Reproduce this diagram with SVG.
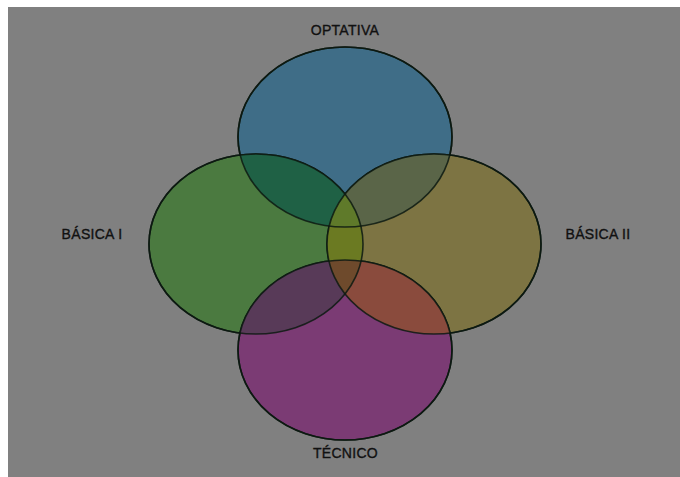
<svg xmlns="http://www.w3.org/2000/svg" width="680" height="477" viewBox="0 0 680 477">
<style>
.set{stroke:#0d1a12;stroke-width:1.6}
.ln{fill:none;stroke:#0d1a12;stroke-width:1.6;stroke-opacity:0.85}
.lbl{font-family:"Liberation Sans",Arial,sans-serif;font-size:14px;letter-spacing:0.3px;fill:#111;stroke:#111;stroke-width:0.35;text-anchor:middle}
</style>
<defs>
<clipPath id="cB"><ellipse cx="345" cy="137" rx="107" ry="90"/></clipPath>
<clipPath id="cG"><ellipse cx="256" cy="244" rx="107" ry="90"/></clipPath>
<clipPath id="cO"><ellipse cx="434" cy="244" rx="107" ry="90"/></clipPath>
<clipPath id="cM"><ellipse cx="345" cy="350" rx="107" ry="90"/></clipPath>
</defs>
<rect x="0" y="0" width="680" height="477" fill="#ffffff"/>
<rect x="8" y="7" width="672" height="470" fill="#808080"/>
<g id="optativa">
<ellipse class="set" cx="345" cy="137" rx="107" ry="90" fill="#3f6d87"/>
<text class="lbl" x="345" y="34.5">OPTATIVA</text>
</g>
<g id="basica1">
<ellipse class="set" cx="256" cy="244" rx="107" ry="90" fill="#4b7a40"/>
<text class="lbl" x="92" y="238.5">BÁSICA I</text>
</g>
<g id="basica2">
<ellipse class="set" cx="434" cy="244" rx="107" ry="90" fill="#7d7443"/>
<text class="lbl" x="598" y="238.5">BÁSICA II</text>
</g>
<g id="tecnico">
<ellipse class="set" cx="345" cy="350" rx="107" ry="90" fill="#7b3b74"/>
<text class="lbl" x="345.5" y="457.5">TÉCNICO</text>
</g>
<g id="overlaps">
<g clip-path="url(#cB)"><ellipse cx="256" cy="244" rx="107" ry="90" fill="#1f6145"/></g>
<g clip-path="url(#cB)"><ellipse cx="434" cy="244" rx="107" ry="90" fill="#5a6548"/></g>
<g clip-path="url(#cG)"><ellipse cx="434" cy="244" rx="107" ry="90" fill="#6b7a22"/></g>
<g clip-path="url(#cG)"><ellipse cx="345" cy="350" rx="107" ry="90" fill="#583a58"/></g>
<g clip-path="url(#cO)"><ellipse cx="345" cy="350" rx="107" ry="90" fill="#8a4b3d"/></g>
<g clip-path="url(#cB)"><g clip-path="url(#cG)"><ellipse cx="434" cy="244" rx="107" ry="90" fill="#5f7a2a"/></g></g>
<g clip-path="url(#cM)"><g clip-path="url(#cG)"><ellipse cx="434" cy="244" rx="107" ry="90" fill="#6e4a2c"/></g></g>
</g>
<g id="outlines">
<ellipse class="ln" cx="345" cy="137" rx="107" ry="90"/>
<ellipse class="ln" cx="256" cy="244" rx="107" ry="90"/>
<ellipse class="ln" cx="434" cy="244" rx="107" ry="90"/>
<ellipse class="ln" cx="345" cy="350" rx="107" ry="90"/>
</g>
<g id="connectors"></g>
</svg>
